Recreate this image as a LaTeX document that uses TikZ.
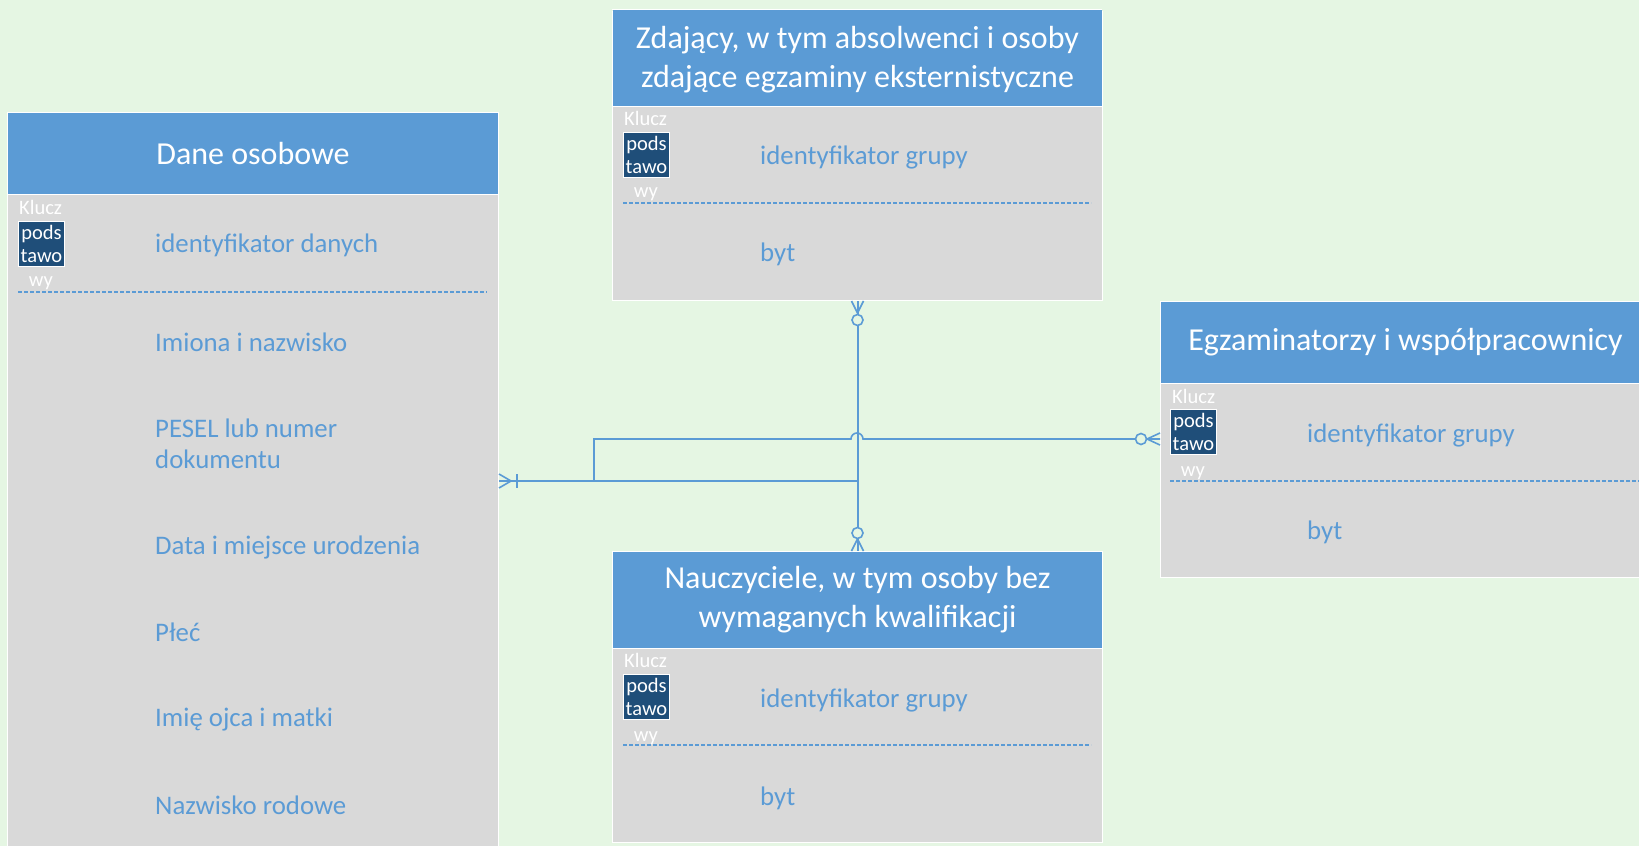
\documentclass[tikz,border=0pt]{standalone}
\usepackage{fontspec}
\setmainfont{Carlito}
\usetikzlibrary{calc}
\definecolor{bg}{HTML}{E5F6E3}
\definecolor{hdrblue}{HTML}{5B9BD5}
\definecolor{bodygray}{HTML}{D9D9D9}
\definecolor{keyblue}{HTML}{1F4E79}
\begin{document}
\begin{tikzpicture}[x=1pt,y=-1pt,
  hdr/.style={draw=white, line width=1pt, fill=hdrblue, text=white, font=\fontsize{32}{39}\selectfont, align=center, anchor=north west, inner sep=0pt},
  bodybox/.style={draw=white, line width=1pt, fill=bodygray, anchor=north west, inner sep=0pt},
  attr/.style={text=hdrblue, font=\fontsize{26.8}{31}\selectfont, anchor=west, inner sep=0pt, align=left},
  klucz/.style={text=white, font=\fontsize{20.5}{23}\selectfont, anchor=west, inner sep=0pt},
  keybox/.style={draw=white, line width=1pt, fill=keyblue, text=white, font=\fontsize{20.5}{23}\selectfont, minimum width=46pt, minimum height=45pt, inner sep=0pt, anchor=north west, align=center},
  sepline/.style={draw=hdrblue, line width=1.3pt, dash pattern=on 4pt off 2pt},
  conn/.style={draw=hdrblue, line width=2pt},
  leg/.style={draw=hdrblue, line width=1.6pt},
  ring/.style={draw=hdrblue, line width=1.6pt, fill=bg}
]
\useasboundingbox (0,0) rectangle (1639,846);
\clip (0,0) rectangle (1639,846);
\fill[bg] (0,0) rectangle (1639,846);

% ---------- Dane osobowe ----------
\node[hdr, minimum width=491pt, minimum height=82pt] (dh) at (7,112) {Dane osobowe};
\node[bodybox, minimum width=491pt, minimum height=660pt] (db) at (7,194) {};
\node[klucz] (dk) at (19,207) {Klucz};
\node[keybox] (dkb) at (18,221) {pods\\tawo};
\node[klucz, anchor=center] (dw) at (41,283) {wy};
\draw[sepline] (18,292) -- (487,292);
\node[attr] (d1) at (155,245) {identyfikator danych};
\node[attr] (d2) at (155,342) {Imiona i nazwisko};
\node[attr] (d3) at (155,444) {PESEL lub numer\\dokumentu};
\node[attr] (d4) at (155,547) {Data i miejsce urodzenia};
\node[attr] (d5) at (155,632) {Płeć};
\node[attr] (d6) at (155,719) {Imię ojca i matki};
\node[attr] (d7) at (155,805) {Nazwisko rodowe};

% ---------- Zdający ----------
\node[hdr, minimum width=490pt, minimum height=97pt] (zh) at (612,11) {Zdający, w tym absolwenci i osoby\\zdające egzaminy eksternistyczne};
\fill[hdrblue] (612.5,9.5) rectangle (1101.5,12);
\draw[white, line width=1pt] (612,9) -- (1102,9);
\node[bodybox, minimum width=490pt, minimum height=194pt] (zb) at (612,106) {};
\node[klucz] (zk) at (624,118) {Klucz};
\node[keybox] (zkb) at (623,132) {pods\\tawo};
\node[klucz, anchor=center] (zw) at (646,194) {wy};
\draw[sepline] (623,203) -- (1091,203);
\node[attr] (z1) at (760,157) {identyfikator grupy};
\node[attr] (z2) at (760,254) {byt};

% ---------- Egzaminatorzy ----------
\node[hdr, minimum width=490pt, minimum height=82pt] (eh) at (1160,301) {Egzaminatorzy i współpracownicy};
\node[bodybox, minimum width=490pt, minimum height=194pt] (eb) at (1160,383) {};
\node[klucz] (ek) at (1172,396) {Klucz};
\node[keybox] (ekb) at (1170,409) {pods\\tawo};
\node[klucz, anchor=center] (ew) at (1193,473) {wy};
\draw[sepline] (1170,481) -- (1650,481);
\node[attr] (e1) at (1307,435) {identyfikator grupy};
\node[attr] (e2) at (1307,532) {byt};

% ---------- Nauczyciele ----------
\node[hdr, minimum width=490pt, minimum height=97pt] (nh) at (612,551) {Nauczyciele, w tym osoby bez\\wymaganych kwalifikacji};
\node[bodybox, minimum width=490pt, minimum height=194pt] (nb) at (612,648) {};
\node[klucz] (nk) at (624,660) {Klucz};
\node[keybox] (nkb) at (623,674) {pods\\tawo};
\node[klucz, anchor=center] (nw) at (646,738) {wy};
\draw[sepline] (623,745) -- (1091,745);
\node[attr] (n1) at (760,700) {identyfikator grupy};
\node[attr] (n2) at (760,798) {byt};

% ---------- connectors ----------
\coordinate (j) at (857,481);
\coordinate (stp) at (594,481);
\coordinate (eport) at (1160,439);

\draw[conn] (zb.south) -- (nh.north);
\draw[conn] (db.east |- j) -- (j);
\draw[conn, line width=1.6pt] (stp) -- (stp |- eport) -- ($(j |- eport)+(-6,0)$)
  arc[start angle=180, end angle=0, radius=6pt] -- (eport);

% zero-or-many at Zdajacy
\draw[leg] ($(zb.south)+(-6,0)$) -- ($(zb.south)+(0,12)$) -- ($(zb.south)+(6,0)$);
\draw[ring] ($(zb.south)+(0,19)$) circle[radius=5.5pt];
% zero-or-many at Nauczyciele
\draw[leg] ($(nh.north)+(-6,0)$) -- ($(nh.north)+(0,-12)$) -- ($(nh.north)+(6,0)$);
\draw[ring] ($(nh.north)+(0,-18)$) circle[radius=5.5pt];
% zero-or-many at Egzaminatorzy
\draw[leg] ($(eport)+(0,-6)$) -- ($(eport)+(-13,0)$) -- ($(eport)+(0,6)$);
\draw[ring] ($(eport)+(-19,0)$) circle[radius=5.5pt];
% one-or-many at Dane osobowe
\draw[leg] ($(db.east |- j)+(0,-7)$) -- ($(db.east |- j)+(12,0)$) -- ($(db.east |- j)+(0,7)$);
\draw[leg] ($(db.east |- j)+(18,-7)$) -- ($(db.east |- j)+(18,7)$);
\end{tikzpicture}
\end{document}
